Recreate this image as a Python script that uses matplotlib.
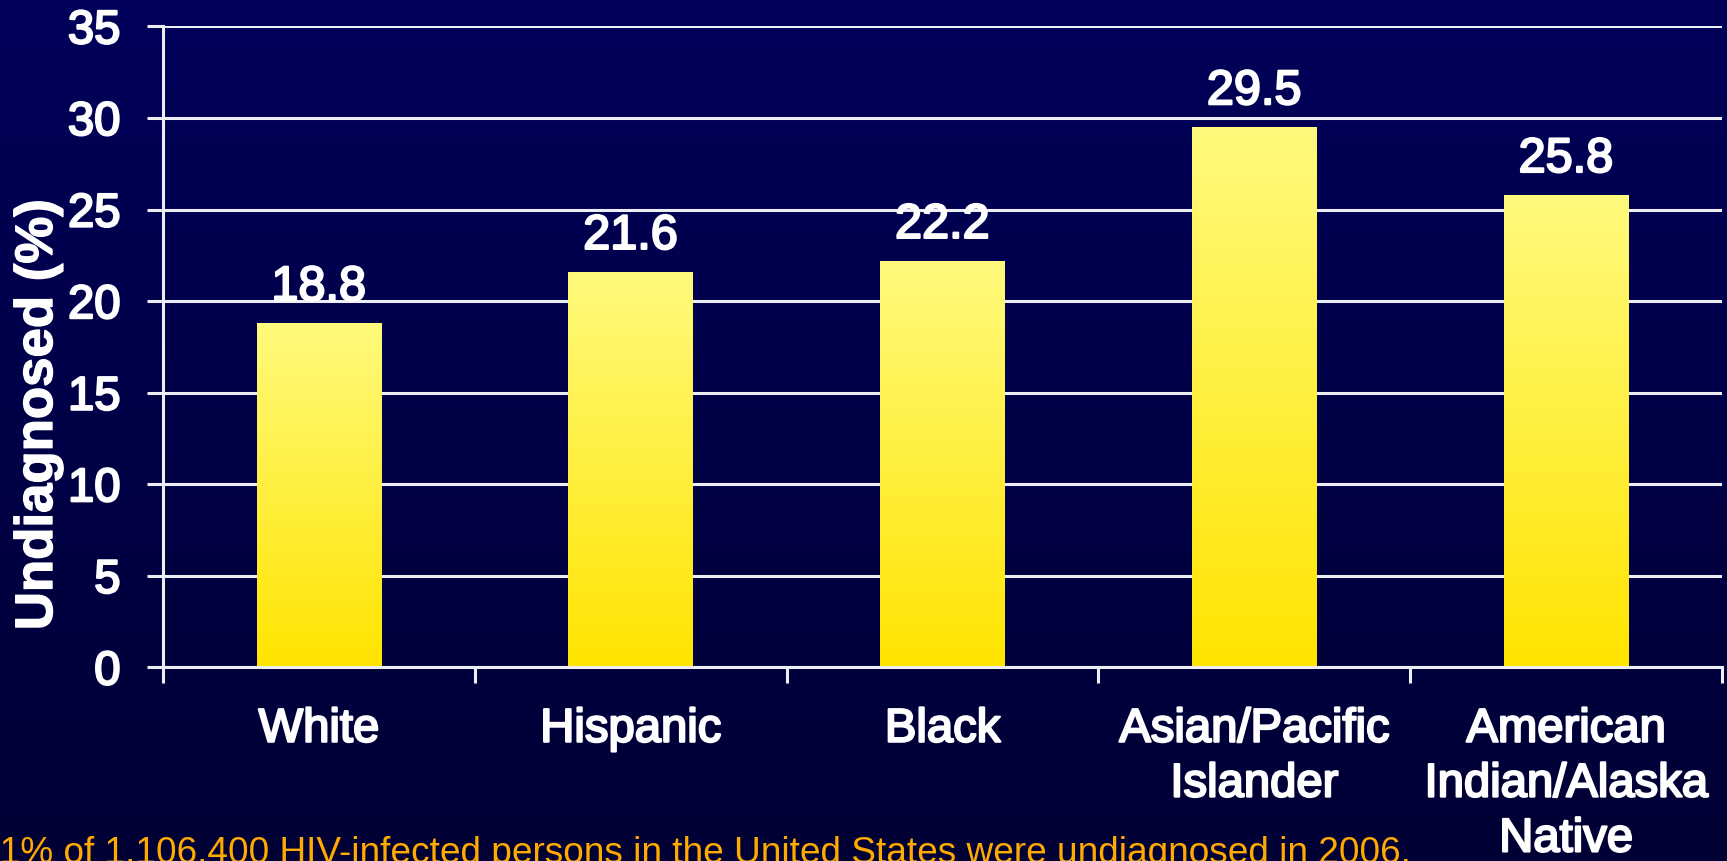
import numpy as np
import matplotlib
matplotlib.use("Agg")
import matplotlib.pyplot as plt
import matplotlib.patheffects as pe

categories = ["White", "Hispanic", "Black", "Asian/Pacific\nIslander", "American\nIndian/Alaska\nNative"]
values = [18.8, 21.6, 22.2, 29.5, 25.8]
yticks = [0, 5, 10, 15, 20, 25, 30, 35]
ylabel = "Undiagnosed (%)"
footnote = "21% of 1,106,400 HIV-infected persons in the United States were undiagnosed in 2006."

plt.rcParams['font.family'] = ['Liberation Sans', 'DejaVu Sans']

W, H = 1727, 861
fig = plt.figure(figsize=(W / 100, H / 100), dpi=100)

thick = [pe.withStroke(linewidth=1.6, foreground='white')]

# background gradient
bg = fig.add_axes([0, 0, 1, 1], zorder=-10)
top_c = np.array([0, 0, 90]) / 255
bot_c = np.array([0, 0, 52]) / 255
t = np.linspace(0, 1, 256)[:, None]
grad = (top_c * (1 - t) + bot_c * t)[:, None, :].repeat(2, axis=1)
bg.imshow(grad, aspect='auto', extent=[0, 1, 0, 1])
bg.axis('off')

ax = fig.add_axes([163 / W, 1 - 667.4 / H, (1722 - 163) / W, (667.4 - 26.4) / H])
ax.set_facecolor('none')
ax.set_xlim(-0.5, 4.5)
ax.set_ylim(0, 35)

x = np.arange(len(categories))
bw = 0.40
bars = ax.bar(x, values, width=bw, color='none', edgecolor='none', zorder=3)
top_y = np.array([255, 250, 125]) / 255
bot_y = np.array([255, 228, 0]) / 255
gy = (top_y * (1 - t) + bot_y * t)[:, None, :].repeat(2, axis=1)
for b in bars:
    x0, y0 = b.get_x(), b.get_y()
    im = ax.imshow(gy, aspect='auto', extent=[x0, x0 + b.get_width(), y0, y0 + b.get_height()], zorder=3)
    im.set_clip_path(b)

for xi, v in zip(x, values):
    ax.annotate(f"{v}", (xi, v), xytext=(0, 16.5), textcoords='offset points',
                ha='center', va='baseline', color='white', fontsize=35, zorder=5,
                path_effects=thick)

ax.set_yticks(yticks)
ax.set_yticklabels([str(v) for v in yticks])
ax.yaxis.grid(True, color='#EDEDF5', linewidth=2.2, zorder=1)
ax.tick_params(axis='y', length=11.5, width=2.2, color='#EDEDF5', labelcolor='white',
               labelsize=34, pad=19)

ax.set_xticks(x)
ax.set_xticklabels(categories, linespacing=1.32)
ax.set_xticks(np.arange(-0.5, 5.0, 1.0), minor=True)
ax.tick_params(axis='x', which='major', length=0, labelsize=34, labelcolor='white', pad=29)
ax.tick_params(axis='x', which='minor', length=11.5, width=2.2, color='#EDEDF5')

for lbl in ax.get_xticklabels() + ax.get_yticklabels():
    lbl.set_path_effects(thick)

for s in ['top', 'right']:
    ax.spines[s].set_visible(False)
for s in ['left', 'bottom']:
    ax.spines[s].set_color('#EDEDF5')
    ax.spines[s].set_linewidth(2.2)
    ax.spines[s].set_zorder(4)

fig.text(38 / W, 1 - 415 / H, ylabel, rotation=90, ha='center', va='center',
         color='white', fontsize=38, fontweight='bold',
         path_effects=[pe.withStroke(linewidth=1.0, foreground='white')])

fig.text(1411 / W, -2 / H, footnote, ha='right', va='baseline', color='#FFAA00', fontsize=26.65)

fig.savefig("out.png", dpi=100, facecolor=fig.get_facecolor())
